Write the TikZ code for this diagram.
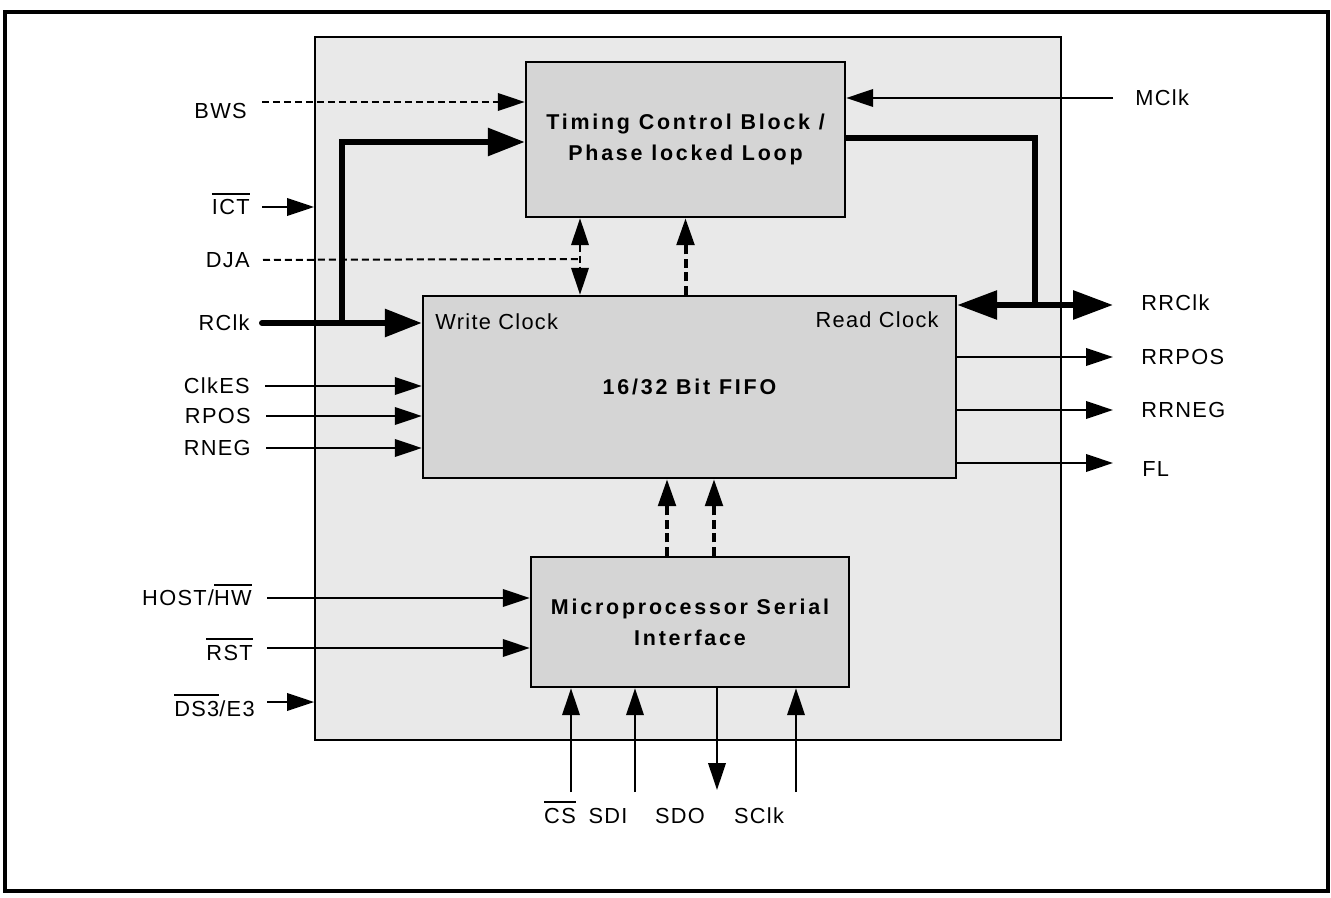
\documentclass[tikz,border=0pt]{standalone}
\usepackage{fontspec}
\setmainfont[LetterSpace=6]{Liberation Sans}
\newfontfamily\blockfont[LetterSpace=13]{Liberation Sans}
\usetikzlibrary{arrows.meta,positioning}
\newcommand{\negsig}[1]{\leavevmode\vbox{\hrule height 1pt\kern 2.6pt\hbox{#1}}}
\begin{document}
\begin{tikzpicture}[x=0.02cm, y=-0.02cm, >={Triangle[length=0.54cm,width=0.35cm]},
  font=\fontsize{12.4}{14}\selectfont,
  block/.style={draw, line width=0.05cm, fill=gray!33, inner sep=0, align=center,
    font=\blockfont\bfseries\fontsize{12.2}{17.6}\selectfont},
  lbl/.style={inner sep=0, text height=0.3cm, text depth=0cm},
  sig/.style={line width=0.04cm},
  bus/.style={line width=0.12cm, -{Triangle[length=0.74cm,width=0.54cm]}},
  dashsig/.style={line width=0.04cm, dash pattern=on 0.14cm off 0.08cm},
  ctrl/.style={line width=0.08cm, dash pattern=on 0.18cm off 0.09cm, ->}]
\useasboundingbox (0,0) rectangle (1331,898);
\draw[line width=0.08cm] (5,12) rectangle (1328,891);

% chip and blocks
\node[draw, line width=0.04cm, fill=gray!17, minimum width=14.92cm, minimum height=14.06cm, inner sep=0] (chip) at (688,388.5) {};
\node[block, minimum width=6.38cm, minimum height=3.1cm] (timing) at (685.5,139.5) {Timing Control Block /\\Phase locked Loop};
\node[block, minimum width=10.66cm, minimum height=3.64cm] (fifo) at (689.5,387) {16/32 Bit FIFO};
\node[block, minimum width=6.36cm, minimum height=2.6cm] (micro) at (690,622) {Microprocessor Serial\\Interface};
\node[lbl, anchor=west] (wclk) at (435,322) {Write Clock};
\node[lbl, anchor=east] (rdclk) at (939,320) {Read Clock};

% left pins
\node[lbl, anchor=east] (bws) at (247,111.5) {BWS};
\node[lbl, anchor=east] (ict) at (250,207) {\negsig{ICT}};
\node[lbl, anchor=east] (dja) at (250,260) {DJA};
\node[lbl, anchor=east] (rclk) at (250,323) {RClk};
\node[lbl, anchor=east] (clkes) at (250,386) {ClkES};
\node[lbl, anchor=east] (rpos) at (251,416) {RPOS};
\node[lbl, anchor=east] (rneg) at (251,448) {RNEG};
\node[lbl, anchor=east] (host) at (252,598) {HOST/\negsig{HW}};
\node[lbl, anchor=east] (rst) at (253,652.5) {\negsig{RST}};
\node[lbl, anchor=east] (ds3) at (255,708.5) {\negsig{DS3}/E3};

% right pins
\node[lbl, anchor=west] (mclk) at (1135,98) {MClk};
\node[lbl, anchor=west] (rrclk) at (1141,303) {RRClk};
\node[lbl, anchor=west] (rrpos) at (1141,357) {RRPOS};
\node[lbl, anchor=west] (rrneg) at (1141,410) {RRNEG};
\node[lbl, anchor=west] (fl) at (1142,468.5) {FL};

% bottom pins
\node[lbl] (cs) at (560,815.5) {\negsig{CS}};
\node[lbl] (sdi) at (608,815.5) {SDI};
\node[lbl] (sdo) at (680,815.5) {SDO};
\node[lbl] (sclk) at (759,815.5) {SClk};
\coordinate (csin) at (571,792);
\coordinate (sdiin) at (635,792);
\coordinate (sdoout) at (717,790);
\coordinate (sclkin) at (796,792);
\coordinate (rclkj) at (342,323);
\coordinate (djaj) at (580,259);
\coordinate (rrj) at (1035,305);

% inputs on the left
\draw[dashsig, ->, shorten <=0.3cm] ([yshift=0.19cm]bws.east) -- ([yshift=0.19cm]bws.east -| timing.west);
\draw[sig, ->, shorten <=0.24cm] (ict) -- (ict -| chip.west);
\draw[dashsig, shorten <=0.26cm] (dja) -- (djaj);
\draw[bus, line cap=round, shorten <=0.24cm] (rclk) -- (rclk -| fifo.west);
\draw[line width=0.12cm, -{Triangle[length=0.74cm,width=0.54cm]}] (rclkj) |- ([yshift=-0.05cm]timing.west);
\draw[sig, ->, shorten <=0.3cm] (clkes) -- (clkes -| fifo.west);
\draw[sig, ->, shorten <=0.3cm] (rpos) -- (rpos -| fifo.west);
\draw[sig, ->, shorten <=0.3cm] (rneg) -- (rneg -| fifo.west);
\draw[sig, ->, shorten <=0.3cm] (host) -- (host -| micro.west);
\draw[sig, ->, shorten <=0.28cm] ([yshift=0.09cm]rst.east) -- ([yshift=0.09cm]rst.east -| micro.west);
\draw[sig, ->, shorten <=0.24cm] ([yshift=0.13cm]ds3.east) -- ([yshift=0.13cm]ds3.east -| chip.west);

% between the blocks
\draw[dashsig, <->] (timing.south -| djaj) -- (fifo.north -| djaj);
\draw[ctrl] (fifo.north -| timing.south) -- (timing.south);
\draw[ctrl] ([xshift=-0.46cm]micro.north) -- ([xshift=-0.46cm]micro.north |- fifo.south);
\draw[ctrl] ([xshift=0.48cm]micro.north) -- ([xshift=0.48cm]micro.north |- fifo.south);

% outputs on the right
\draw[sig, ->, shorten <=0.44cm] (mclk) -- (mclk -| timing.east);
\draw[line width=0.12cm] ([yshift=0.03cm]timing.east) -| (rrj);
\draw[line width=0.12cm, {Triangle[length=0.8cm,width=0.56cm]}-{Triangle[length=0.8cm,width=0.56cm]}, shorten >=0.56cm] (fifo.east |- rrj) -- (rrj -| rrclk.west);
\draw[sig, ->, shorten >=0.56cm] (fifo.east |- rrpos) -- (rrpos);
\draw[sig, ->, shorten >=0.56cm] (fifo.east |- rrneg) -- (rrneg);
\draw[sig, ->, shorten >=0.58cm] ([yshift=0.11cm]fl.west -| fifo.east) -- ([yshift=0.11cm]fl.west);

% serial port
\draw[sig, ->] (csin) -- (csin |- micro.south);
\draw[sig, ->] (sdiin) -- (sdiin |- micro.south);
\draw[sig, ->] (micro.south -| sdoout) -- (sdoout);
\draw[sig, ->] (sclkin) -- (sclkin |- micro.south);
\end{tikzpicture}
\end{document}
